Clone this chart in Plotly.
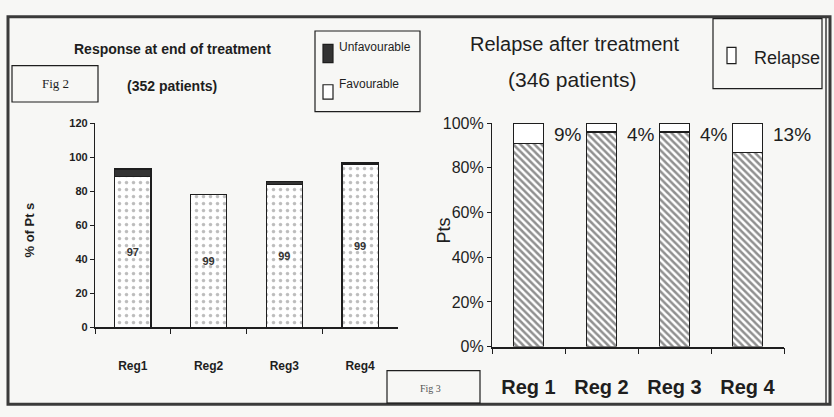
import plotly.graph_objects as go

W, H = 834, 417

# ---- data -------------------------------------------------------------
regimens = ["Reg1", "Reg2", "Reg3", "Reg4"]
regimen_labels_big = ["Reg 1", "Reg 2", "Reg 3", "Reg 4"]

# Fig 2: response at end of treatment (% of patients)
favourable = [88.5, 78, 84, 95.5]
unfavourable = [4.5, 0, 1.5, 1]
favourable_rate_text = ["97", "99", "99", "99"]

# Fig 3: relapse after treatment (% of patients)
no_relapse = [91, 96, 96, 87]
relapse = [9, 4, 4, 13]

left_ticks = [0, 20, 40, 60, 80, 100, 120]
right_ticks = [0, 20, 40, 60, 80, 100]

# ---- helpers ----------------------------------------------------------
def px(x):
    return x / W


def py(y):
    return 1 - y / H


INK = "#1e1e1e"
ARIAL = "Liberation Sans, Arial, sans-serif"
SERIF = "Liberation Serif, Times New Roman, serif"

fig = go.Figure()

# Fig 2 bars
fig.add_trace(go.Bar(
    x=regimens, y=favourable, name="Favourable",
    xaxis="x", yaxis="y", width=0.48,
    text=favourable_rate_text, textposition="inside",
    insidetextanchor="middle", textangle=0,
    textfont=dict(family=ARIAL, size=11, color="#333", weight=700),
    marker=dict(color="white", line=dict(color=INK, width=1.3),
                pattern=dict(shape=".", fgcolor="#7a7a7a", bgcolor="white",
                             size=7, solidity=0.2)),
))
fig.add_trace(go.Bar(
    x=regimens, y=unfavourable, name="Unfavourable",
    xaxis="x", yaxis="y", width=0.48,
    marker=dict(color="#333333", line=dict(color=INK, width=1.3)),
))

# Fig 3 bars
fig.add_trace(go.Bar(
    x=regimens, y=no_relapse, name="No relapse",
    xaxis="x2", yaxis="y2", width=0.41,
    marker=dict(color="white", line=dict(color=INK, width=1.3),
                pattern=dict(shape="\\", fgcolor="#222", bgcolor="white",
                             size=5, solidity=0.5)),
))
fig.add_trace(go.Bar(
    x=regimens, y=relapse, name="Relapse",
    xaxis="x2", yaxis="y2", width=0.41,
    marker=dict(color="white", line=dict(color=INK, width=1.3)),
))

# relapse percentages beside each bar
annotations = []
for reg, r in zip(regimens, relapse):
    annotations.append(dict(
        x=reg, y=100, xref="x2", yref="y2", text=f"{r}%",
        xanchor="left", yanchor="top", xshift=23, yshift=1, showarrow=False,
        font=dict(family=ARIAL, size=19, color=INK),
    ))

# titles and captions
def note(x, y, text, size, family=ARIAL, anchor="center", color=INK, angle=0, weight=400):
    annotations.append(dict(
        x=px(x), y=py(y), xref="paper", yref="paper", text=text,
        xanchor=anchor, yanchor="middle", showarrow=False, textangle=angle,
        font=dict(family=family, size=size, color=color, weight=weight),
    ))


note(172, 43, "Response at end of treatment", 14, weight=700)
note(172, 81, "(352 patients)", 14, weight=700)
note(30, 232, "% of Pt s", 13, angle=-90, weight=700)
note(55, 79, "Fig 2", 13, family=SERIF)
note(337, 41, "Unfavourable", 12, anchor="left")
note(337, 79, "Favourable", 12, anchor="left")

note(574, 38, "Relapse after treatment", 20)
note(572, 75, "(346 patients)", 21)
note(444, 232, "Pts", 18, angle=-90)
note(752, 52, "Relapse", 18, anchor="left")
note(430, 397, "Fig 3", 10, family=SERIF, color="#555")

# boxes and frame
def rect(x0, y0, x1, y1, width=1.2, fill="rgba(0,0,0,0)", color=INK):
    return dict(type="rect", xref="paper", yref="paper",
                x0=px(x0), x1=px(x1), y0=py(y0), y1=py(y1),
                line=dict(color=color, width=width), fillcolor=fill, layer="above")


shapes = [
    rect(8, 9, 830, 413, width=3, color="#3a3a3a"),
    dict(type="line", xref="paper", yref="paper", x0=px(826), x1=px(826),
         y0=py(10), y1=py(412), line=dict(color="#3a3a3a", width=1.5)),
    rect(12, 60, 98, 98),
    rect(315, 24, 420, 108),
    rect(323, 38, 333, 57, fill="#333333"),
    rect(323, 80, 333, 95, fill="white"),
    rect(713, 11, 822, 84),
    rect(727, 41, 736, 58, fill="white"),
    rect(387, 378, 480, 412),
]

fig.update_layout(
    width=W, height=H,
    margin=dict(l=0, r=0, t=0, b=0),
    paper_bgcolor="#f7f7f5", plot_bgcolor="rgba(0,0,0,0)",
    barmode="stack", showlegend=False,
    annotations=annotations, shapes=shapes,
    xaxis=dict(
        domain=[px(95), px(398)], type="category", range=[-0.5, 3.5],
        tickson="boundaries", ticks="outside", ticklen=5, tickcolor=INK,
        showline=True, linecolor=INK, linewidth=1.5, showgrid=False,
        ticklabelstandoff=26,
        tickfont=dict(family=ARIAL, size=12, color=INK, weight=700),
        anchor="y",
    ),
    yaxis=dict(
        domain=[py(333), py(120)], range=[0, 120], tickvals=left_ticks,
        ticks="outside", ticklen=4, tickcolor=INK,
        showline=True, linecolor=INK, linewidth=1.2, showgrid=False, zeroline=False,
        tickfont=dict(family=ARIAL, size=11, color=INK, weight=700), anchor="x",
    ),
    xaxis2=dict(
        domain=[px(492), px(784)], type="category", range=[-0.5, 3.5],
        tickson="boundaries", ticks="outside", ticklen=6, tickcolor=INK,
        tickvals=regimens, ticktext=regimen_labels_big,
        showline=True, linecolor=INK, linewidth=1.5, showgrid=False,
        ticklabelstandoff=22,
        tickfont=dict(family=ARIAL, size=20, color=INK, weight=700),
        anchor="y2",
    ),
    yaxis2=dict(
        domain=[py(353), py(120)], range=[0, 100], tickvals=right_ticks,
        ticktext=[f"{v}%" for v in right_ticks],
        ticks="outside", ticklen=4, tickcolor=INK,
        showline=True, linecolor=INK, linewidth=1.2, showgrid=False, zeroline=False,
        tickfont=dict(family=ARIAL, size=16, color=INK), anchor="x2",
    ),
)

fig.write_html("out.html")
